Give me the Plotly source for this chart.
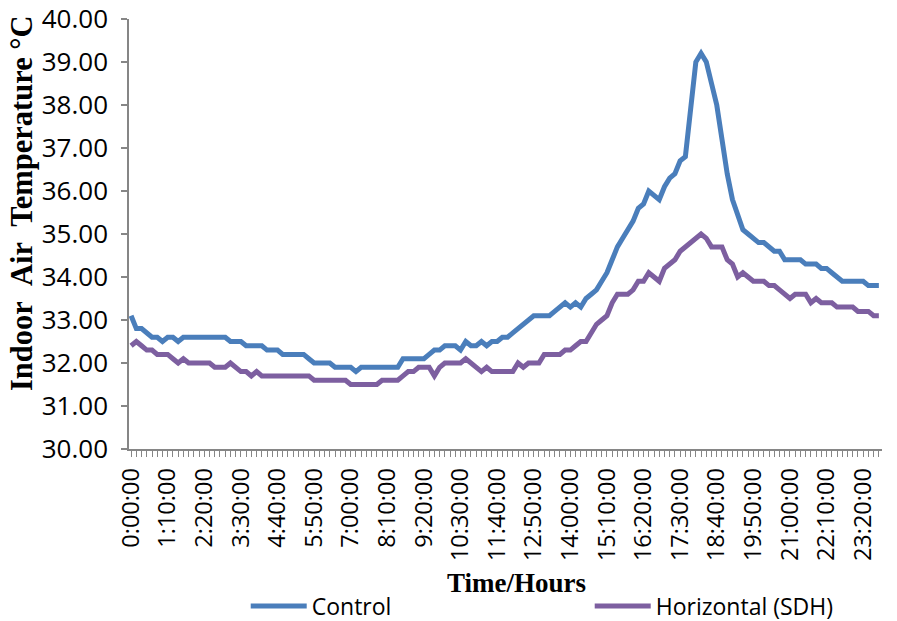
import plotly.graph_objects as go

# Sampling times: one reading every 10 minutes over a day
minutes = list(range(0, 1440, 10))

# Indoor air temperature (°C) for the control room
control = [
    33.1, 32.8, 32.8, 32.7, 32.6, 32.6, 32.5, 32.6, 32.6, 32.5,
    32.6, 32.6, 32.6, 32.6, 32.6, 32.6, 32.6, 32.6, 32.6, 32.5,
    32.5, 32.5, 32.4, 32.4, 32.4, 32.4, 32.3, 32.3, 32.3, 32.2,
    32.2, 32.2, 32.2, 32.2, 32.1, 32.0, 32.0, 32.0, 32.0, 31.9,
    31.9, 31.9, 31.9, 31.8, 31.9, 31.9, 31.9, 31.9, 31.9, 31.9,
    31.9, 31.9, 32.1, 32.1, 32.1, 32.1, 32.1, 32.2, 32.3, 32.3,
    32.4, 32.4, 32.4, 32.3, 32.5, 32.4, 32.4, 32.5, 32.4, 32.5,
    32.5, 32.6, 32.6, 32.7, 32.8, 32.9, 33.0, 33.1, 33.1, 33.1,
    33.1, 33.2, 33.3, 33.4, 33.3, 33.4, 33.3, 33.5, 33.6, 33.7,
    33.9, 34.1, 34.4, 34.7, 34.9, 35.1, 35.3, 35.6, 35.7, 36.0,
    35.9, 35.8, 36.1, 36.3, 36.4, 36.7, 36.8, 37.9, 39.0, 39.2,
    39.0, 38.5, 38.0, 37.2, 36.4, 35.8, 35.4, 35.1, 35.0, 34.9,
    34.8, 34.8, 34.7, 34.6, 34.6, 34.4, 34.4, 34.4, 34.4, 34.3,
    34.3, 34.3, 34.2, 34.2, 34.1, 34.0, 33.9, 33.9, 33.9, 33.9,
    33.9, 33.8, 33.8, 33.8,
]

# Indoor air temperature (°C) for the horizontal shading device room
horizontal_sdh = [
    32.4, 32.5, 32.4, 32.3, 32.3, 32.2, 32.2, 32.2, 32.1, 32.0,
    32.1, 32.0, 32.0, 32.0, 32.0, 32.0, 31.9, 31.9, 31.9, 32.0,
    31.9, 31.8, 31.8, 31.7, 31.8, 31.7, 31.7, 31.7, 31.7, 31.7,
    31.7, 31.7, 31.7, 31.7, 31.7, 31.6, 31.6, 31.6, 31.6, 31.6,
    31.6, 31.6, 31.5, 31.5, 31.5, 31.5, 31.5, 31.5, 31.6, 31.6,
    31.6, 31.6, 31.7, 31.8, 31.8, 31.9, 31.9, 31.9, 31.7, 31.9,
    32.0, 32.0, 32.0, 32.0, 32.1, 32.0, 31.9, 31.8, 31.9, 31.8,
    31.8, 31.8, 31.8, 31.8, 32.0, 31.9, 32.0, 32.0, 32.0, 32.2,
    32.2, 32.2, 32.2, 32.3, 32.3, 32.4, 32.5, 32.5, 32.7, 32.9,
    33.0, 33.1, 33.4, 33.6, 33.6, 33.6, 33.7, 33.9, 33.9, 34.1,
    34.0, 33.9, 34.2, 34.3, 34.4, 34.6, 34.7, 34.8, 34.9, 35.0,
    34.9, 34.7, 34.7, 34.7, 34.4, 34.3, 34.0, 34.1, 34.0, 33.9,
    33.9, 33.9, 33.8, 33.8, 33.7, 33.6, 33.5, 33.6, 33.6, 33.6,
    33.4, 33.5, 33.4, 33.4, 33.4, 33.3, 33.3, 33.3, 33.3, 33.2,
    33.2, 33.2, 33.1, 33.1,
]

# Labelled ticks every 70 minutes
tick_minutes = minutes[::7]
tick_labels = [f"{m // 60}:{m % 60:02d}:00" for m in tick_minutes]

AXIS_GREY = "#868686"
X_TICK_FONT = dict(family="Open Sans", size=23.5, color="#000000")
Y_TICK_FONT = dict(family="Open Sans", size=26, color="#000000")
TITLE_FONT = dict(family="Liberation Serif", size=27, color="#000000")

fig = go.Figure()
fig.add_trace(go.Scatter(
    x=minutes, y=control, mode="lines", name="Control",
    line=dict(color="#4A7EBB", width=5),
))
fig.add_trace(go.Scatter(
    x=minutes, y=horizontal_sdh, mode="lines", name="Horizontal (SDH)",
    line=dict(color="#7D5FA0", width=5),
))

fig.update_xaxes(
    range=[-4, 1436], automargin=False,
    tickmode="array", tickvals=tick_minutes, ticktext=tick_labels,
    tickangle=-90, tickfont=X_TICK_FONT,
    ticks="outside", ticklen=6, tickwidth=1, tickcolor=AXIS_GREY,
    ticklabelstandoff=2,
    minor=dict(tickmode="linear", tick0=0, dtick=10, ticks="outside",
               ticklen=6, tickwidth=1, tickcolor=AXIS_GREY),
    showline=True, linecolor=AXIS_GREY, linewidth=1.5,
    showgrid=False, zeroline=False,
)
fig.update_yaxes(
    range=[30, 40], dtick=1, tickformat=".2f", tickfont=Y_TICK_FONT,
    automargin=False,
    ticks="outside", ticklen=6, tickwidth=1.5, tickcolor=AXIS_GREY,
    ticklabelstandoff=8,
    showline=True, linecolor=AXIS_GREY, linewidth=1.5,
    showgrid=False, zeroline=False,
)

fig.add_annotation(
    text="<b>Time/Hours</b>", xref="paper", yref="paper",
    x=0.515, y=-0.312, xanchor="center", yanchor="middle",
    showarrow=False, font=TITLE_FONT,
)
fig.add_annotation(
    text="<b>Indoor\u00a0\u00a0Air\u00a0\u00a0Temperature\u00a0°C</b>",
    xref="paper", yref="paper",
    x=-0.142, y=0.572, xanchor="center", yanchor="middle",
    textangle=-90, showarrow=False, font=dict(TITLE_FONT, size=30.5),
)

fig.update_layout(
    width=897, height=621,
    margin=dict(l=129, r=15, t=19, b=172, autoexpand=False),
    plot_bgcolor="white", paper_bgcolor="white",
    legend=dict(
        orientation="h", x=0.155, y=-0.365, xanchor="left", yanchor="middle",
        font=dict(family="Open Sans", size=23, color="#000000"),
        entrywidth=273, entrywidthmode="pixels", itemwidth=56,
        bgcolor="rgba(0,0,0,0)",
    ),
)

fig.write_html("out.html")
